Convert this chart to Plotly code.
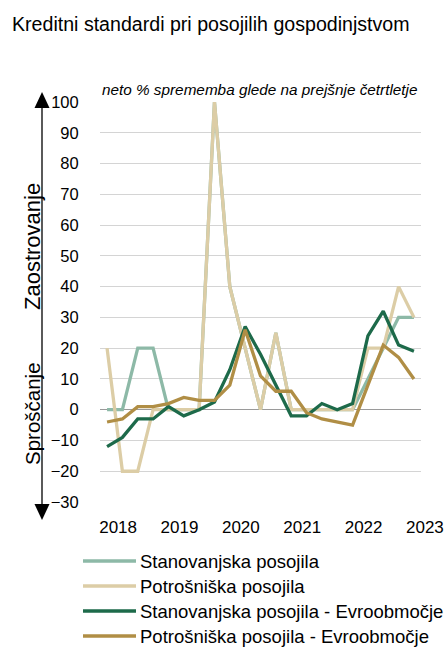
import plotly.graph_objects as go

# ---- data (quarterly, 21 observations) ----
quarters = list(range(21))
stanovanjska = [0, 0, 20, 20, 0, 0, 0, 100, 40, 20, 0, 25, 0, 0, 0, 0, 0, 10, 20, 30, 30]
potrosniska = [20, -20, -20, 0, 0, 0, 0, 100, 40, 20, 0, 25, 0, 0, 0, 0, 0, 20, 20, 40, 30]
stan_evro = [-12, -9, -3, -3, 1, -2, 0, 2.5, 13, 27, 18, 8, -2, -2, 2, 0, 2, 24, 32, 21, 19]
potr_evro = [-4, -3, 1, 1, 2, 4, 3, 3, 8, 26, 11, 6, 6, -1, -3, -4, -5, 8, 21, 17, 10]

series_names = [
    "Stanovanjska posojila",
    "Potrošniška posojila",
    "Stanovanjska posojila - Evroobmočje",
    "Potrošniška posojila - Evroobmočje",
]
series_values = [stanovanjska, potrosniska, stan_evro, potr_evro]
colors = ["#8DB9A7", "#DCCDA6", "#1D6A4A", "#B08E45"]

year_labels = ["2018", "2019", "2020", "2021", "2022", "2023"]
year_tick_pos = [0.72 + 4 * k for k in range(len(year_labels))]
y_ticks = list(range(-30, 101, 10))

FONT = "Liberation Sans, Arial, sans-serif"

W, H = 445, 647
L, R, T, B = 100, 24, 102, 145
pw, ph = W - L - R, H - T - B
X_RANGE = [-0.46, 20.46]


def px(xp):
    return (xp - L) / pw


def py(yp):
    return (H - B - yp) / ph


fig = go.Figure()
for name, vals, col in zip(series_names, series_values, colors):
    fig.add_trace(go.Scatter(
        x=quarters, y=vals, name=name, mode="lines",
        line=dict(color=col, width=3.3),
        hoverinfo="skip", showlegend=False,
    ))

fig.update_xaxes(
    range=X_RANGE,
    tickvals=year_tick_pos[:-1], ticktext=year_labels[:-1],
    showgrid=False, zeroline=False, showline=False,
    ticks="outside", ticklen=10, tickcolor="rgba(0,0,0,0)",
    tickfont=dict(family=FONT, size=17, color="#000"),
)
fig.update_yaxes(
    range=[-30, 100],
    tickvals=y_ticks,
    showgrid=True, gridcolor="#D4D4D4", gridwidth=1,
    zeroline=True, zerolinecolor="#9A9A9A", zerolinewidth=1,
    showline=False,
    ticks="outside", ticklen=17, tickcolor="rgba(0,0,0,0)",
    tickfont=dict(family=FONT, size=16.5, color="#000"),
)

# arrow on the left
ax_x = px(42)
shapes = [
    dict(type="line", xref="paper", yref="paper", x0=ax_x, x1=ax_x,
         y0=py(106), y1=py(506), line=dict(color="#000", width=1.3)),
    dict(type="path", xref="paper", yref="paper",
         path=f"M {px(34.5)},{py(108)} L {px(49.5)},{py(108)} L {px(42)},{py(92)} Z",
         fillcolor="#000", line=dict(color="#000", width=0)),
    dict(type="path", xref="paper", yref="paper",
         path=f"M {px(34.5)},{py(504)} L {px(49.5)},{py(504)} L {px(42)},{py(520)} Z",
         fillcolor="#000", line=dict(color="#000", width=0)),
]

# last year label lies just past the plot edge -> place in paper coords
last_x_paper = (year_tick_pos[-1] - X_RANGE[0]) / (X_RANGE[1] - X_RANGE[0])

annotations = [
    dict(text="<i>neto % sprememba glede na prejšnje četrtletje</i>",
         xref="paper", yref="paper", x=px(259), y=py(89),
         xanchor="center", yanchor="middle", showarrow=False,
         font=dict(family=FONT, size=15.3, color="#000")),
    dict(text="Zaostrovanje", textangle=-90,
         xref="paper", yref="paper", x=px(32), y=py(247),
         xanchor="center", yanchor="middle", showarrow=False,
         font=dict(family=FONT, size=22, color="#000")),
    dict(text="Sproščanje", textangle=-90,
         xref="paper", yref="paper", x=px(32), y=py(414),
         xanchor="center", yanchor="middle", showarrow=False,
         font=dict(family=FONT, size=20.5, color="#000")),
    dict(text=year_labels[-1], xref="paper", yref="paper",
         x=last_x_paper, y=py(527),
         xanchor="center", yanchor="middle", showarrow=False,
         font=dict(family=FONT, size=17, color="#000")),
]

# manual legend below the plot
leg_rows = [561, 586, 611, 636]
for name, col, yy in zip(series_names, colors, leg_rows):
    shapes.append(dict(type="line", xref="paper", yref="paper",
                       x0=px(83), x1=px(136), y0=py(yy), y1=py(yy),
                       line=dict(color=col, width=3.5)))
    annotations.append(dict(text=name, xref="paper", yref="paper",
                            x=px(138), y=py(yy), xanchor="left", yanchor="middle",
                            showarrow=False,
                            font=dict(family=FONT, size=18.5, color="#000")))

fig.update_layout(
    width=W, height=H,
    margin=dict(l=L, r=R, t=T, b=B),
    paper_bgcolor="#fff", plot_bgcolor="#fff",
    title=dict(text="Kreditni standardi pri posojilih gospodinjstvom",
               x=12 / W, xanchor="left", y=1 - 24 / H, yanchor="middle",
               font=dict(family=FONT, size=19.6, color="#000")),
    showlegend=False,
    shapes=shapes,
    annotations=annotations,
)

fig.write_html("out.html")
